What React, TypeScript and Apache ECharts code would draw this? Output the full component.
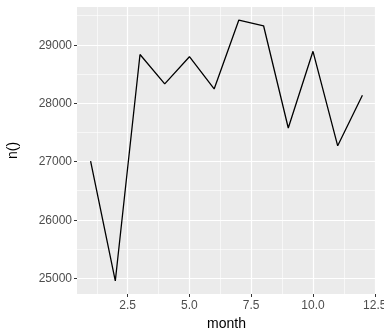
import React, { useEffect, useRef } from "react";
import * as echarts from "echarts";

const months = [1, 2, 3, 4, 5, 6, 7, 8, 9, 10, 11, 12];
const counts = [27004, 24951, 28834, 28330, 28796, 28243, 29425, 29327, 27574, 28889, 27268, 28135];
const xMajor = [2.5, 5, 7.5, 10, 12.5];
const xMinor = [1.25, 3.75, 6.25, 8.75, 11.25];
const yMajor = [25000, 26000, 27000, 28000, 29000];
const yMinor = [25500, 26500, 27500, 28500, 29500];

export default function App() {
  const ref = useRef<HTMLDivElement>(null);
  useEffect(() => {
    const chart = echarts.init(ref.current!, null, { renderer: "svg" });
    const ymin = Math.min(...counts);
    const ymax = Math.max(...counts);
    const yr = ymax - ymin;
    const xr = months[months.length - 1] - months[0];
    const font = "Liberation Sans, Arial, sans-serif";
    const minorStyle = { color: "#ffffff", width: 0.6, type: "solid" as const };
    const majorStyle = { color: "#ffffff", width: 1.2, type: "solid" as const };
    const gridLines = [
      ...xMinor.map((v) => ({ xAxis: v, lineStyle: minorStyle })),
      ...yMinor.map((v) => ({ yAxis: v, lineStyle: minorStyle })),
      ...xMajor.map((v) => ({ xAxis: v, lineStyle: majorStyle })),
      ...yMajor.map((v) => ({ yAxis: v, lineStyle: majorStyle })),
    ];
    chart.setOption({
      animation: false,
      grid: {
        left: 77,
        top: 7,
        right: 8,
        bottom: 42,
        show: true,
        backgroundColor: "#EBEBEB",
        borderWidth: 0,
        containLabel: false,
        outerBoundsMode: "none",
      },
      xAxis: {
        type: "value",
        min: months[0] - xr * 0.05,
        max: months[months.length - 1] + xr * 0.05,
        name: "month",
        nameLocation: "middle",
        nameGap: 22,
        nameTextStyle: { color: "#000", fontSize: 14, fontFamily: font },
        axisLine: { show: false },
        splitLine: { show: false },
        axisTick: { show: true, length: 3, customValues: xMajor, lineStyle: { color: "#333", width: 1 } },
        axisLabel: {
          customValues: xMajor,
          formatter: (v: number) => v.toFixed(1),
          color: "#4d4d4d",
          fontSize: 12,
          fontFamily: font,
          margin: 5,
        },
      },
      yAxis: {
        type: "value",
        min: ymin - yr * 0.05,
        max: ymax + yr * 0.05,
        name: "n()",
        nameLocation: "middle",
        nameGap: 58,
        nameTextStyle: { color: "#000", fontSize: 14, fontFamily: font },
        axisLine: { show: false },
        splitLine: { show: false },
        axisTick: { show: true, length: 3, customValues: yMajor, lineStyle: { color: "#333", width: 1 } },
        axisLabel: {
          customValues: yMajor,
          formatter: (v: number) => String(v),
          color: "#4d4d4d",
          fontSize: 12,
          fontFamily: font,
          margin: 5,
        },
      },
      series: [
        {
          type: "line",
          data: [],
          z: 1,
          silent: true,
          markLine: {
            silent: true,
            symbol: "none",
            label: { show: false },
            animation: false,
            data: gridLines,
          },
        },
        {
          type: "line",
          z: 5,
          data: months.map((m, i) => [m, counts[i]]),
          showSymbol: false,
          symbol: "none",
          lineStyle: { color: "#000", width: 1.3 },
        },
      ],
    });
    return () => chart.dispose();
  }, []);
  return <div ref={ref} style={{ position: "fixed", left: 0, top: 0, width: 384, height: 336 }} />;
}
